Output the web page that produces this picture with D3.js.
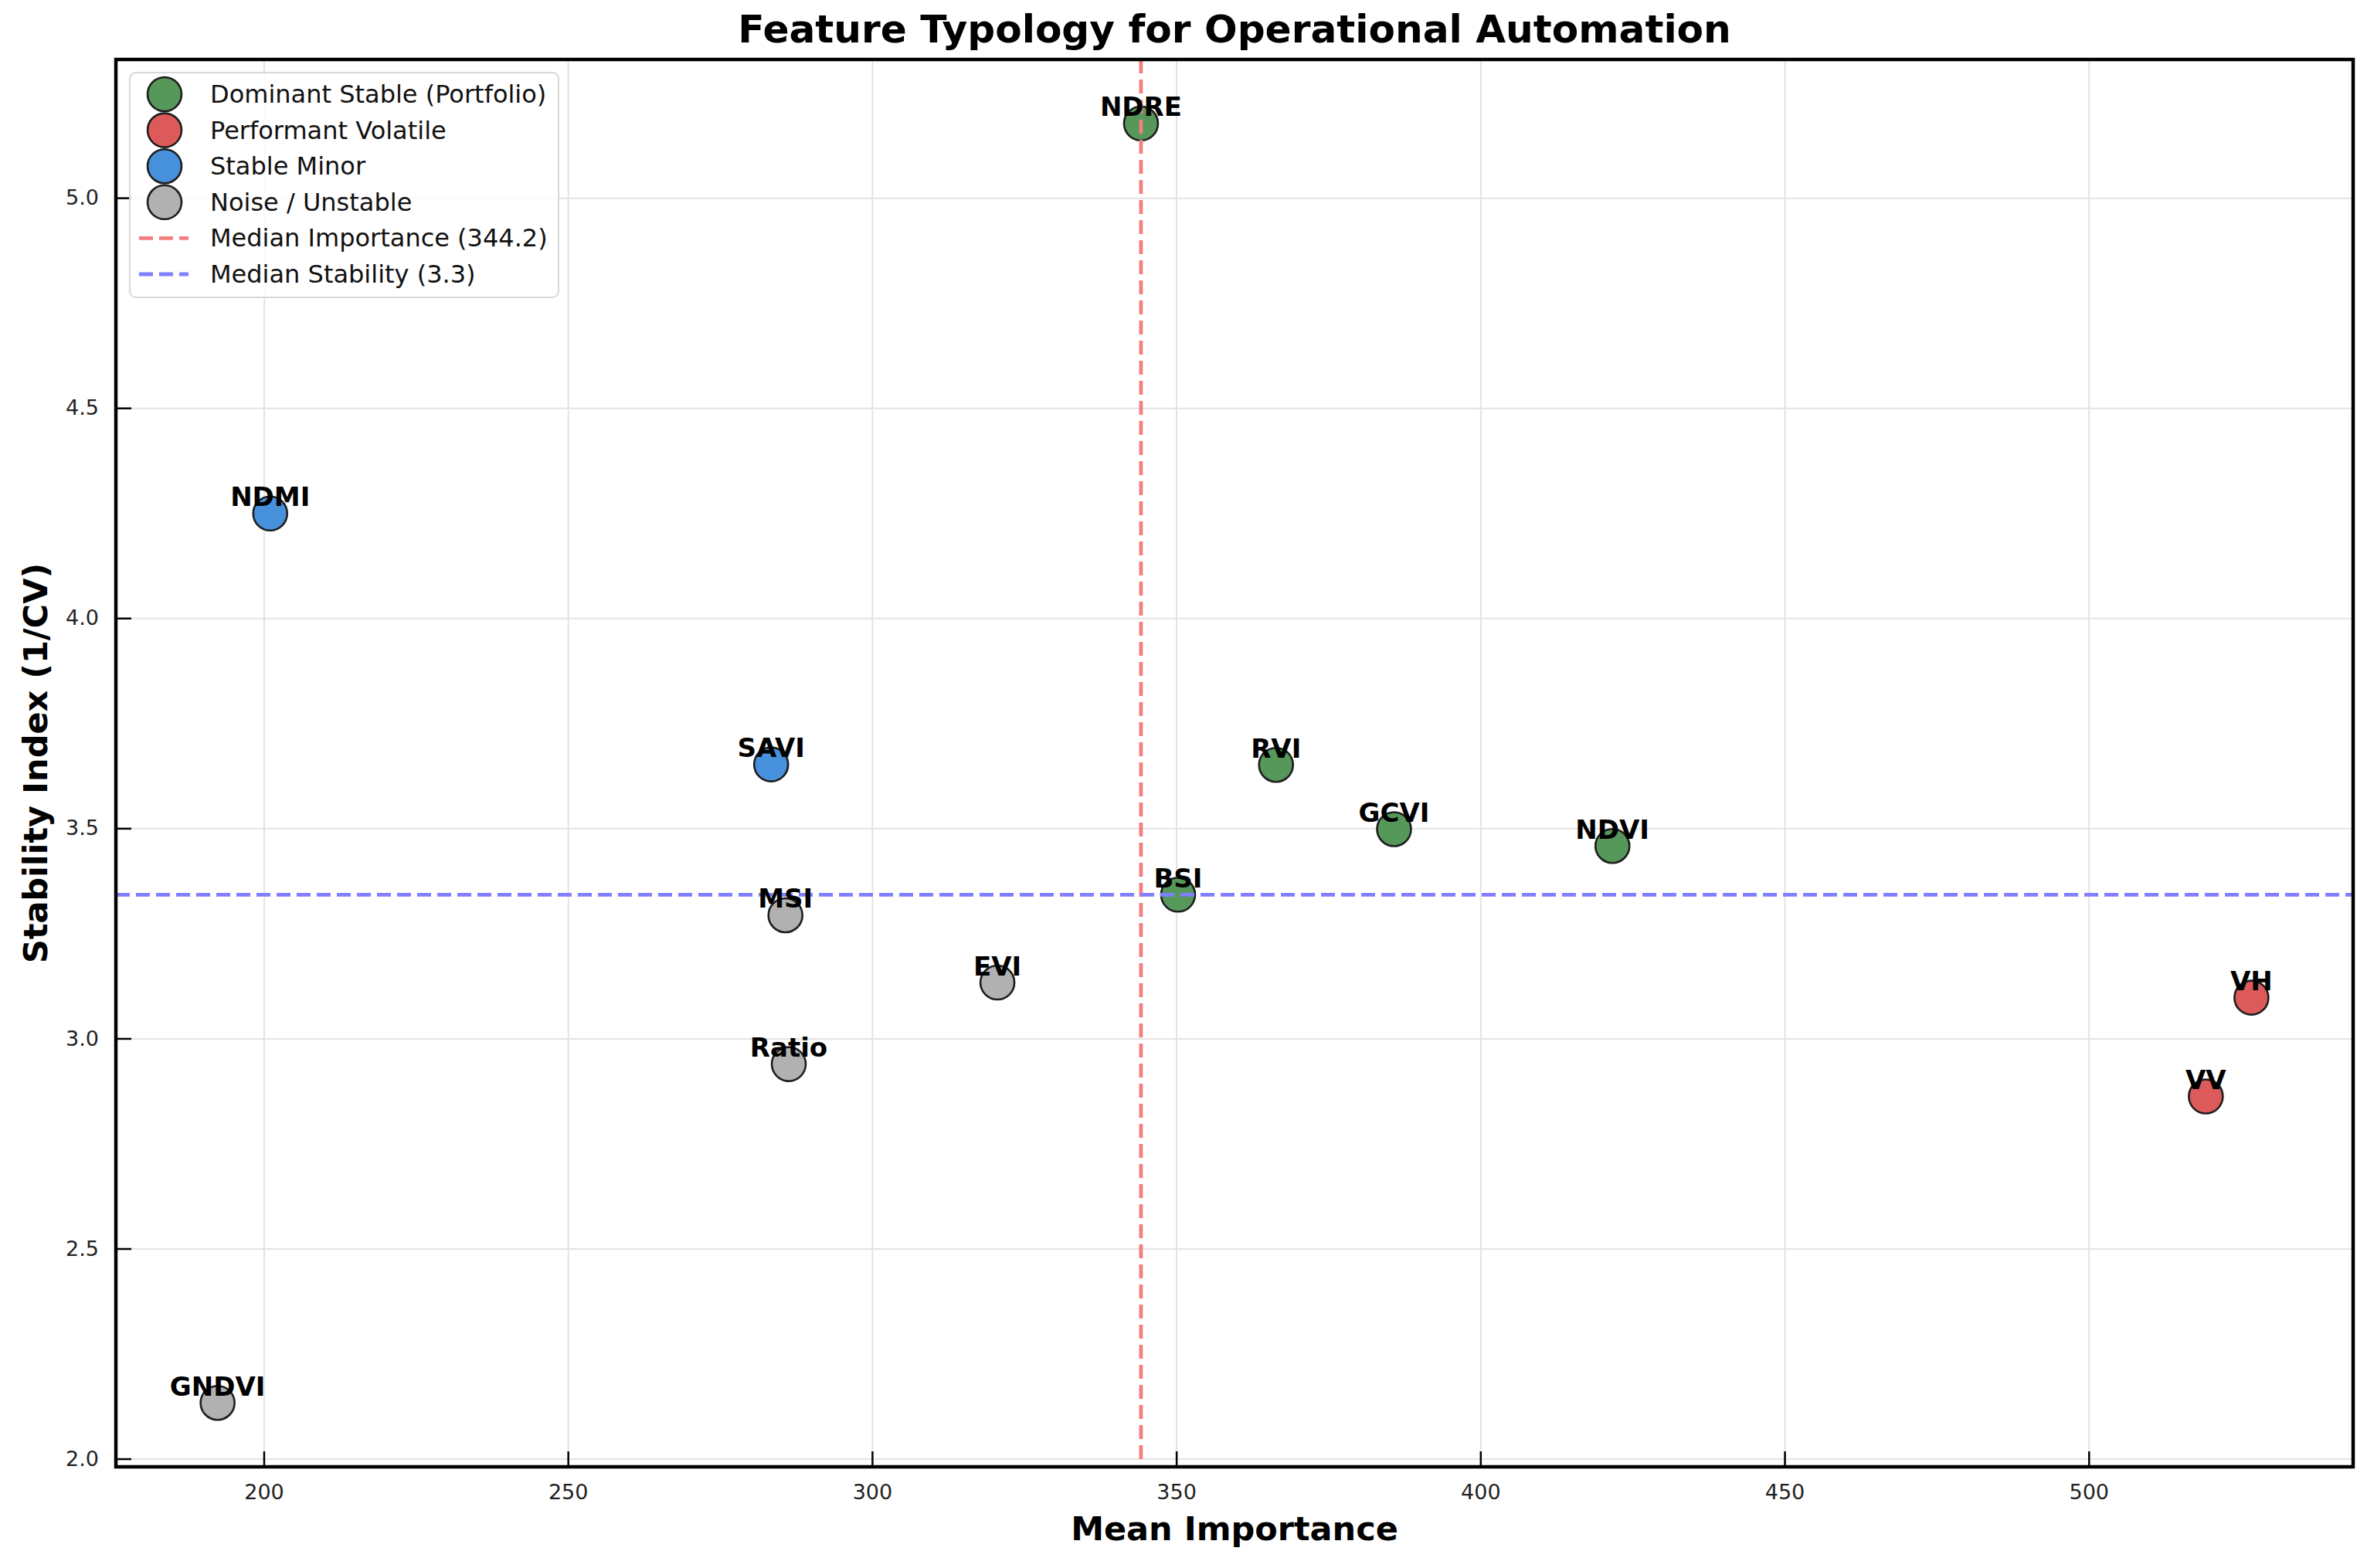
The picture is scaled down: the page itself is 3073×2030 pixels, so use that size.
<!DOCTYPE html>
<html><head><meta charset="utf-8">
<script src="https://cdn.jsdelivr.net/npm/d3@7"></script>
<style>
html,body{margin:0;padding:0;background:#fff;}
svg{display:block;font-family:"DejaVu Sans",sans-serif;}
</style>
</head><body>
<svg id="chart" width="3073" height="2030"></svg>
<script>
// ---- data ----
const features = ["NDRE","NDMI","SAVI","RVI","GCVI","NDVI","BSI","MSI","EVI","Ratio","VH","VV","GNDVI"];
const meanImportance = [344.2,201.05,283.4,366.4,385.8,421.7,350.3,285.75,320.6,286.3,526.75,519.25,192.4];
const stabilityIndex = [5.177,4.249,3.652,3.651,3.498,3.458,3.342,3.293,3.133,2.939,3.097,2.862,2.133];
const featureGroup = ["Dominant Stable (Portfolio)","Stable Minor","Stable Minor","Dominant Stable (Portfolio)",
  "Dominant Stable (Portfolio)","Dominant Stable (Portfolio)","Dominant Stable (Portfolio)","Noise / Unstable",
  "Noise / Unstable","Noise / Unstable","Performant Volatile","Performant Volatile","Noise / Unstable"];
const groups = ["Dominant Stable (Portfolio)","Performant Volatile","Stable Minor","Noise / Unstable"];
const xTickValues = [200,250,300,350,400,450,500];
const yTickValues = [2.0,2.5,3.0,3.5,4.0,4.5,5.0];
const titleText = "Feature Typology for Operational Automation";
const xLabel = "Mean Importance";
const yLabel = "Stability Index (1/CV)";

// ---- styles ----
const groupColor = d3.scaleOrdinal().domain(groups)
  .range(["#56975a","#dc5a5a","#4790db","#b1b1b1"]);
const redLine = "#f47f7f", blueLine = "#7f7fff";
const W = 3073, H = 2030;
const plot = {left:150, right:3046, top:77, bottom:1899};

const svg = d3.select("#chart");
svg.append("rect").attr("width",W).attr("height",H).attr("fill","#fff");

const medX = d3.median(meanImportance);
const medY = d3.median(stabilityIndex);

function padded(arr){
  const [a,b] = d3.extent(arr); const m = (b-a)*0.05; return [a-m,b+m];
}
const x = d3.scaleLinear().domain(padded(meanImportance)).range([plot.left, plot.right]);
const y = d3.scaleLinear().domain(padded(stabilityIndex)).range([plot.bottom, plot.top]);

const pw = plot.right-plot.left, ph = plot.bottom-plot.top;

// grid
const gx = svg.append("g").attr("transform",`translate(0,${plot.bottom})`)
  .call(d3.axisBottom(x).tickValues(xTickValues).tickSize(-ph).tickFormat(""));
const gy = svg.append("g").attr("transform",`translate(${plot.left},0)`)
  .call(d3.axisLeft(y).tickValues(yTickValues).tickSize(-pw).tickFormat(""));
[gx,gy].forEach(g=>{
  g.select(".domain").remove();
  g.selectAll("line").attr("stroke","#e3e3e3").attr("stroke-width",2);
});

// points
const pts = features.map((f,i)=>({name:f, xv:meanImportance[i], yv:stabilityIndex[i], g:featureGroup[i]}));
svg.append("g").selectAll("circle").data(pts).join("circle")
  .attr("cx",d=>x(d.xv)).attr("cy",d=>y(d.yv)).attr("r",22)
  .attr("fill",d=>groupColor(d.g)).attr("stroke","#1e1e1e").attr("stroke-width",2.6);

// median lines
svg.append("line").attr("x1",x(medX)).attr("x2",x(medX)).attr("y1",plot.top).attr("y2",plot.bottom)
  .attr("stroke",redLine).attr("stroke-width",4.8).attr("stroke-dasharray","18 8");
svg.append("line").attr("x1",plot.left).attr("x2",plot.right).attr("y1",y(medY)).attr("y2",y(medY))
  .attr("stroke",blueLine).attr("stroke-width",4.8).attr("stroke-dasharray","18 8");

// labels
svg.append("g").selectAll("text").data(pts).join("text")
  .attr("x",d=>x(d.xv)).attr("y",d=>y(d.yv)-9.5)
  .attr("text-anchor","middle").attr("font-weight","bold").attr("font-size",34).attr("fill","#000")
  .text(d=>d.name);

// axes (ticks inward)
const ax = svg.append("g").attr("transform",`translate(0,${plot.bottom})`)
  .call(d3.axisBottom(x).tickValues(xTickValues).tickSize(-20).tickPadding(23).tickFormat(d3.format("d")));
const ay = svg.append("g").attr("transform",`translate(${plot.left},0)`)
  .call(d3.axisLeft(y).tickValues(yTickValues).tickSize(-20).tickPadding(22).tickFormat(d3.format(".1f")));
[ax,ay].forEach(g=>{
  g.select(".domain").remove();
  g.selectAll("line").attr("stroke","#000").attr("stroke-width",2.5);
  g.selectAll("text").attr("font-size",27).attr("fill","#222").attr("font-family","DejaVu Sans");
});

// frame
svg.append("rect").attr("x",plot.left).attr("y",plot.top).attr("width",pw).attr("height",ph)
  .attr("fill","none").attr("stroke","#000").attr("stroke-width",4.5);

// title & axis labels
svg.append("text").attr("x",(plot.left+plot.right)/2).attr("y",55).attr("text-anchor","middle")
  .attr("font-weight","bold").attr("font-size",50.2).text(titleText);
svg.append("text").attr("x",(plot.left+plot.right)/2).attr("y",1994).attr("text-anchor","middle")
  .attr("font-weight","bold").attr("font-size",43).text(xLabel);
svg.append("text").attr("transform",`translate(61,${(plot.top+plot.bottom)/2}) rotate(-90)`)
  .attr("text-anchor","middle").attr("font-weight","bold").attr("font-size",43).text(yLabel);

// legend
const lg = svg.append("g");
lg.append("rect").attr("x",168).attr("y",94).attr("width",555).attr("height",291).attr("rx",8)
  .attr("fill","#fff").attr("fill-opacity",0.8).attr("stroke","#d8d8d8").attr("stroke-width",2);
const legendItems = groups.map(g=>({type:"pt", label:g, color:groupColor(g)}))
  .concat([{type:"line", label:`Median Importance (${medX.toFixed(1)})`, color:redLine},
           {type:"line", label:`Median Stability (${medY.toFixed(1)})`, color:blueLine}]);
const rowY = i => 122 + i*46.6;
legendItems.forEach((it,i)=>{
  const cy = rowY(i);
  if(it.type==="pt"){
    lg.append("circle").attr("cx",213).attr("cy",cy).attr("r",22).attr("fill",it.color)
      .attr("stroke","#1e1e1e").attr("stroke-width",2.6);
  } else {
    lg.append("line").attr("x1",180).attr("x2",244).attr("y1",cy).attr("y2",cy)
      .attr("stroke",it.color).attr("stroke-width",4.8).attr("stroke-dasharray","18 8");
  }
  lg.append("text").attr("x",272).attr("y",cy+11).attr("font-size",32).attr("fill","#111").text(it.label);
});
</script>
</body></html>
